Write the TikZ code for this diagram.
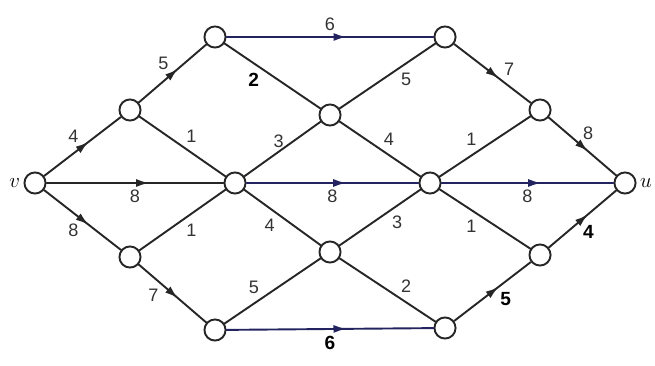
\documentclass[tikz,border=0pt]{standalone}
\usepackage{fontspec}
\setmainfont{Liberation Sans}
\usetikzlibrary{arrows.meta,decorations.markings,positioning}
\definecolor{netblue}{RGB}{35,35,95}
\begin{document}
\begin{tikzpicture}[x=0.035cm, y=0.035cm, line cap=round, line join=round]
% network drawn on a 655 x 365 grid
\providecommand{\netLineColor}{black!85}
\providecommand{\netLineWidth}{1.9pt}
\tikzset{
  vertex/.style={circle, draw=\netLineColor, fill=white, line width=\netLineWidth, minimum size=0.74cm, inner sep=0pt},
  link/.style={draw=\netLineColor, line width=\netLineWidth},
  arc/.style={link, postaction={decorate}, decoration={markings,
    mark=at position 0.58 with {\arrow{Latex[length=13pt,width=8pt]}}}},
  weight/.style={font=\fontsize{18}{20}\selectfont, text=black!80, inner sep=3pt},
  bigweight/.style={weight, font=\fontsize{19}{21}\selectfont\bfseries, text=black},
}
\useasboundingbox (0,0) rectangle (655,365);
% Vertices
\node[vertex] (v)  at (35,182)  {};
\node[vertex] (a1) at (130,255) {};
\node[vertex] (a2) at (130,108) {};
\node[vertex] (b1) at (215,328) {};
\node[vertex] (c)  at (235,182) {};
\node[vertex] (b2) at (215,35)  {};
\node[vertex] (d1) at (330,250) {};
\node[vertex] (d2) at (330,113) {};
\node[vertex] (e1) at (445,328) {};
\node[vertex] (e2) at (430,182) {};
\node[vertex] (e3) at (445,37)  {};
\node[vertex] (f1) at (540,255) {};
\node[vertex] (f2) at (540,110) {};
\node[vertex] (u)  at (625,182) {};
\node[font=\fontsize{21}{22}\selectfont, left=0pt of v] (vlabel) {$v$};
\node[font=\fontsize{21}{22}\selectfont, right=0pt of u] (ulabel) {$u$};
% Directed edges
\draw[arc] (v) -- node[weight, above left] {4} (a1);
\draw[arc] (v) -- node[weight, below=3pt] {8} (c);
\draw[arc] (v) -- node[weight, below left] {8} (a2);
\draw[arc] (a1) -- node[weight, above left] {5} (b1);
\draw[arc] (a2) -- node[weight, below left, pos=0.35] {7} (b2);
\draw[arc, draw=netblue] (b1) -- node[weight, above=2pt] {6} (e1);
\draw[arc, draw=netblue] (c) -- node[weight, below=3pt] {8} (e2);
\draw[arc, draw=netblue] (b2) -- node[bigweight, below=3pt] {6} (e3);
\draw[arc] (e1) -- node[weight, above right, pos=0.6] {7} (f1);
\draw[arc, draw=netblue] (e2) -- node[weight, below=3pt] {8} (u);
\draw[arc] (e3) -- node[bigweight, below right, pos=0.55] {5} (f2);
\draw[arc] (f1) -- node[weight, above right, pos=0.45] {8} (u);
\draw[arc] (f2) -- node[bigweight, below right, pos=0.45] {4} (u);
% Undirected edges
\draw[link] (a1) -- node[weight, above right] {1} (c);
\draw[link] (a2) -- node[weight, below right] {1} (c);
\draw[link] (b1) -- node[bigweight, below left, pos=0.4] {2} (d1);
\draw[link] (c) -- node[weight, above, pos=0.45] {3} (d1);
\draw[link] (c) -- node[weight, below left, pos=0.45] {4} (d2);
\draw[link] (d1) -- node[weight, below right, pos=0.6] {5} (e1);
\draw[link] (d1) -- node[weight, above right] {4} (e2);
\draw[link] (d2) -- node[weight, below right, pos=0.6] {3} (e2);
\draw[link] (b2) -- node[weight, above left, pos=0.4] {5} (d2);
\draw[link] (d2) -- node[weight, above right, pos=0.6] {2} (e3);
\draw[link] (e2) -- node[weight, above left, pos=0.45] {1} (f1);
\draw[link] (e2) -- node[weight, below left, pos=0.45] {1} (f2);
\end{tikzpicture}
\end{document}
